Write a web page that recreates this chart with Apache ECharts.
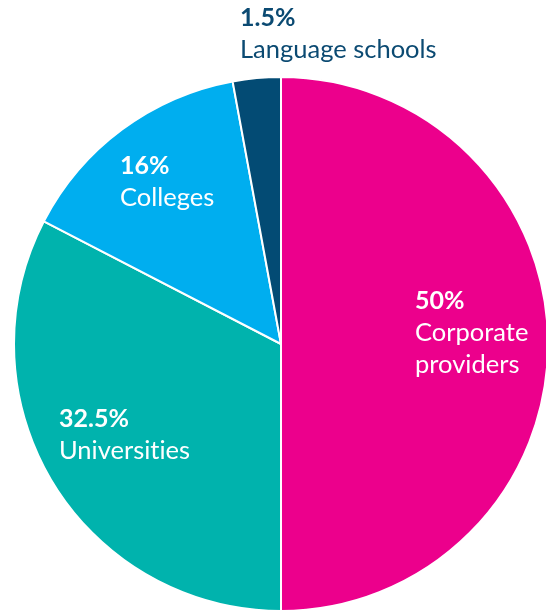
<!DOCTYPE html>
<html>
<head>
<meta charset="utf-8">
<script src="https://cdn.jsdelivr.net/npm/echarts@6/dist/echarts.min.js"></script>
<style>
html,body{margin:0;padding:0;background:#fff;}
#chart{width:546px;height:611px;font-variant-ligatures:none;}
</style>
</head>
<body>
<div id="chart"></div>
<script>
// Categories in drawing order (clockwise from 12 o'clock)
const categories = ['Corporate providers', 'Universities', 'Colleges', 'Language schools'];
// Slice sizes as drawn in the picture (angles measured)
const sliceValues = [50, 32.6, 14.5, 2.9];
// Percentages as printed on the labels
const labelPercents = ['50%', '32.5%', '16%', '1.5%'];
// Label lines as printed
const labelNames = [['Corporate', 'providers'], ['Universities'], ['Colleges'], ['Language schools']];
const colors = ['#EC008C', '#00B3AD', '#00AEEF', '#034B74'];

const FONT = 'Lato';
const chart = echarts.init(document.getElementById('chart'), null, {renderer: 'canvas'});

// break the "ti" ligature of Lato with a zero-width non-joiner
const noLig = s => s.replace(/ti/g, 't\u200Ci');

function labelText(i, color, x, y) {
  const lines = ['{b|' + labelPercents[i] + '}'].concat(labelNames[i].map(s => '{n|' + noLig(s) + '}'));
  return {
    type: 'text',
    left: x, top: y,
    style: {
      text: lines.join('\n'),
      fill: color,
      rich: {
        b: {fontFamily: FONT, fontWeight: 'bold', fontSize: 25, lineHeight: 32, fill: color},
        n: {fontFamily: FONT, fontWeight: 'normal', fontSize: 25.5, lineHeight: 32, fill: color}
      }
    },
    z: 100
  };
}

chart.setOption({
  animation: false,
  series: [{
    type: 'pie',
    center: [281, 344],
    radius: [0, 267],
    startAngle: 90,
    clockwise: true,
    label: {show: false},
    labelLine: {show: false},
    itemStyle: {borderColor: '#ffffff', borderWidth: 2},
    data: categories.map((c, i) => ({name: c, value: sliceValues[i], itemStyle: {color: colors[i]}}))
  }],
  graphic: [
    labelText(0, '#ffffff', 415, 288),
    labelText(1, '#ffffff', 59, 406),
    labelText(2, '#ffffff', 120, 153),
    labelText(3, '#0B4A72', 240, 5)
  ]
});
</script>
</body>
</html>
